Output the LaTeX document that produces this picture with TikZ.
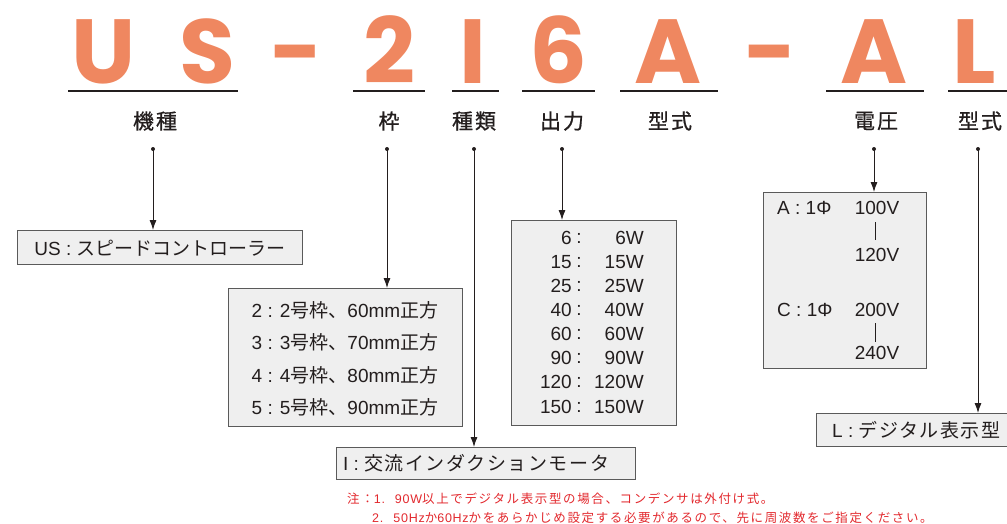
\documentclass[tikz,border=0pt]{standalone}
\usepackage{fontspec}
\setmainfont{Liberation Sans}
\newfontfamily\cjk{Noto Sans CJK JP}
\newfontfamily\cjklab{Noto Sans CJK JP}[FakeBold=0.8]
\newfontfamily\cjkwide{Noto Sans CJK JP}[LetterSpace=8]
\newfontfamily\cjknote{Noto Sans CJK JP}[LetterSpace=13]
\newfontfamily\latnote{Liberation Sans}[LetterSpace=6]
\newfontfamily\bigfont{Poppins}
\usetikzlibrary{arrows.meta}
\definecolor{salmon}{RGB}{239,135,96}
\definecolor{notered}{RGB}{226,40,45}
\definecolor{boxfill}{RGB}{239,239,239}
\definecolor{boxline}{RGB}{90,90,90}
\definecolor{ink}{RGB}{35,30,30}
\begin{document}
\begin{tikzpicture}[x=1pt,y=-1pt,
  bigletter/.style={text=salmon,font=\bigfont\bfseries\fontsize{91}{91}\selectfont,anchor=base,inner sep=0,text depth=0pt},
  uline/.style={line width=1.1pt,draw=ink},
  partlabel/.style={font=\cjklab\fontsize{21}{21}\selectfont,text=ink,inner sep=0},
  dotst/.style={circle,fill=ink,inner sep=0,minimum size=4pt},
  arr/.style={draw=ink,line width=0.9pt,-{Latex[length=10pt,width=7pt]},shorten <=-2pt},
  boxst/.style={draw=boxline,fill=boxfill,line width=0.9pt,inner sep=0,anchor=north west},
  boxtext/.style={font=\fontsize{19}{19}\selectfont,text=ink,inner sep=0},
  notetext/.style={font=\latnote\fontsize{12.5}{12.5}\selectfont,text=notered,inner sep=0,anchor=base west}
]
\clip (0,0) rectangle (1007,523);
\useasboundingbox (0,0) rectangle (1007,523);

% big code letters
\node[bigletter] (lU) at (104,83) {U};
\node[bigletter] (lS) at (207,83) {S};
\node[bigletter] (lD1) at (297,83) {-};
\node[bigletter] (l2) at (389,83) {2};
\node[bigletter] (lI) at (473,83) {I};
\node[bigletter] (l6) at (558,83) {6};
\node[bigletter] (lA1) at (668,83) {A};
\node[bigletter] (lD2) at (771,83) {-};
\node[bigletter] (lA2) at (874,83) {A};
\node[bigletter,anchor=base west] (lL) at (952,83) {L};

% underlines
\draw[uline] (68,91) -- (238,91);
\draw[uline] (353,91) -- (425,91);
\draw[uline] (452,91) -- (499,91);
\draw[uline] (522,91) -- (595,91);
\draw[uline] (620,91) -- (718,91);
\draw[uline] (826,91) -- (924,91);
\draw[uline] (948,91) -- (1007,91);

% labels
\node[partlabel] (tKishu) at (155,121) {機\hspace{2pt}種};
\node[partlabel] (tWaku) at (389,121) {枠};
\node[partlabel] (tShurui) at (474,121) {種\hspace{2pt}類};
\node[partlabel] (tOut) at (562,121) {出\hspace{2pt}力};
\node[partlabel] (tKata1) at (670,121) {型\hspace{2pt}式};
\node[partlabel] (tVolt) at (876,121) {電\hspace{2pt}圧};
\node[partlabel] (tKata2) at (980,121) {型\hspace{2pt}式};

% dots
\node[dotst] (d1) at (153,149) {};
\node[dotst] (d2) at (387,149) {};
\node[dotst] (d3) at (474,149) {};
\node[dotst] (d4) at (562,149) {};
\node[dotst] (d5) at (874,149) {};
\node[dotst] (d6) at (978,149) {};

% boxes
\node[boxst,minimum width=285pt,minimum height=34pt] (bUS) at (17,230) {};
\node[boxst,minimum width=234pt,minimum height=138pt] (bWaku) at (228,288) {};
\node[boxst,minimum width=299pt,minimum height=32pt] (bI) at (336,447) {};
\node[boxst,minimum width=165pt,minimum height=205pt] (bOut) at (511,220) {};
\node[boxst,minimum width=163pt,minimum height=176pt] (bV) at (763,192) {};
\node[boxst,minimum width=200pt,minimum height=33pt] (bL) at (816,413) {};

% arrows
\draw[arr] (d1) -- (d1 |- bUS.north);
\draw[arr] (d2) -- (d2 |- bWaku.north);
\draw[arr] (d3) -- (d3 |- bI.north);
\draw[arr] (d4) -- (d4 |- bOut.north);
\draw[arr] (d5) -- (d5 |- bV.north);
\draw[arr] (d6) -- (d6 |- bL.north);

% box texts
\node[boxtext] (xUS) at (160,248) {US : {\cjk スピードコントローラー}};
\node[boxtext] (xW2) at (345,310) {2 : 2{\cjk 号枠、}60mm{\cjk 正方}};
\node[boxtext] (xW3) at (345,342) {3 : 3{\cjk 号枠、}70mm{\cjk 正方}};
\node[boxtext] (xW4) at (345,375) {4 : 4{\cjk 号枠、}80mm{\cjk 正方}};
\node[boxtext] (xW5) at (345,407) {5 : 5{\cjk 号枠、}90mm{\cjk 正方}};
\node[boxtext,anchor=west] (xI) at (343,463) {I : {\cjkwide 交流インダクションモータ}};
\node[boxtext,anchor=west] (xL) at (832,430) {L : {\cjkwide デジタル表示型}};

% output rows
\foreach \n/\w/\y [count=\i] in {6/6W/238,15/15W/262,25/25W/286,40/40W/310,60/60W/334,90/90W/358,120/120W/382,150/150W/407}{
  \node[boxtext,anchor=east] (on\i) at (572,\y) {\n};
  \node[boxtext] (oc\i) at (579,\y) {:};
  \node[boxtext,anchor=east] (ow\i) at (644,\y) {\w};
}

% voltage box
\node[boxtext,anchor=west] (vA) at (777,208) {A : 1Φ};
\node[boxtext] (vA1) at (877,208) {100V};
\node[boxtext] (vA2) at (877,255) {120V};
\node[boxtext,anchor=west] (vC) at (777,310) {C : 1Φ};
\node[boxtext] (vC1) at (877,310) {200V};
\node[boxtext] (vC2) at (877,353) {240V};
\coordinate (vb1) at (875,222);
\coordinate (vb1e) at (875,240);
\coordinate (vb2) at (875,323);
\coordinate (vb2e) at (875,342);
\draw[draw=ink,line width=0.9pt] (vb1) -- (vb1e);
\draw[draw=ink,line width=0.9pt] (vb2) -- (vb2e);

% notes
\node[notetext] (n1) at (347,503) {{\cjknote 注：}1.\hspace{10pt}90W{\cjknote 以上でデジタル表示型の場合、コンデンサは外付け式。}};
\node[notetext] (n2) at (372,522) {2.\hspace{10pt}50Hz{\cjknote か}60Hz{\cjknote かをあらかじめ設定する必要があるので、先に周波数をご指定ください。}};
\end{tikzpicture}
\end{document}
